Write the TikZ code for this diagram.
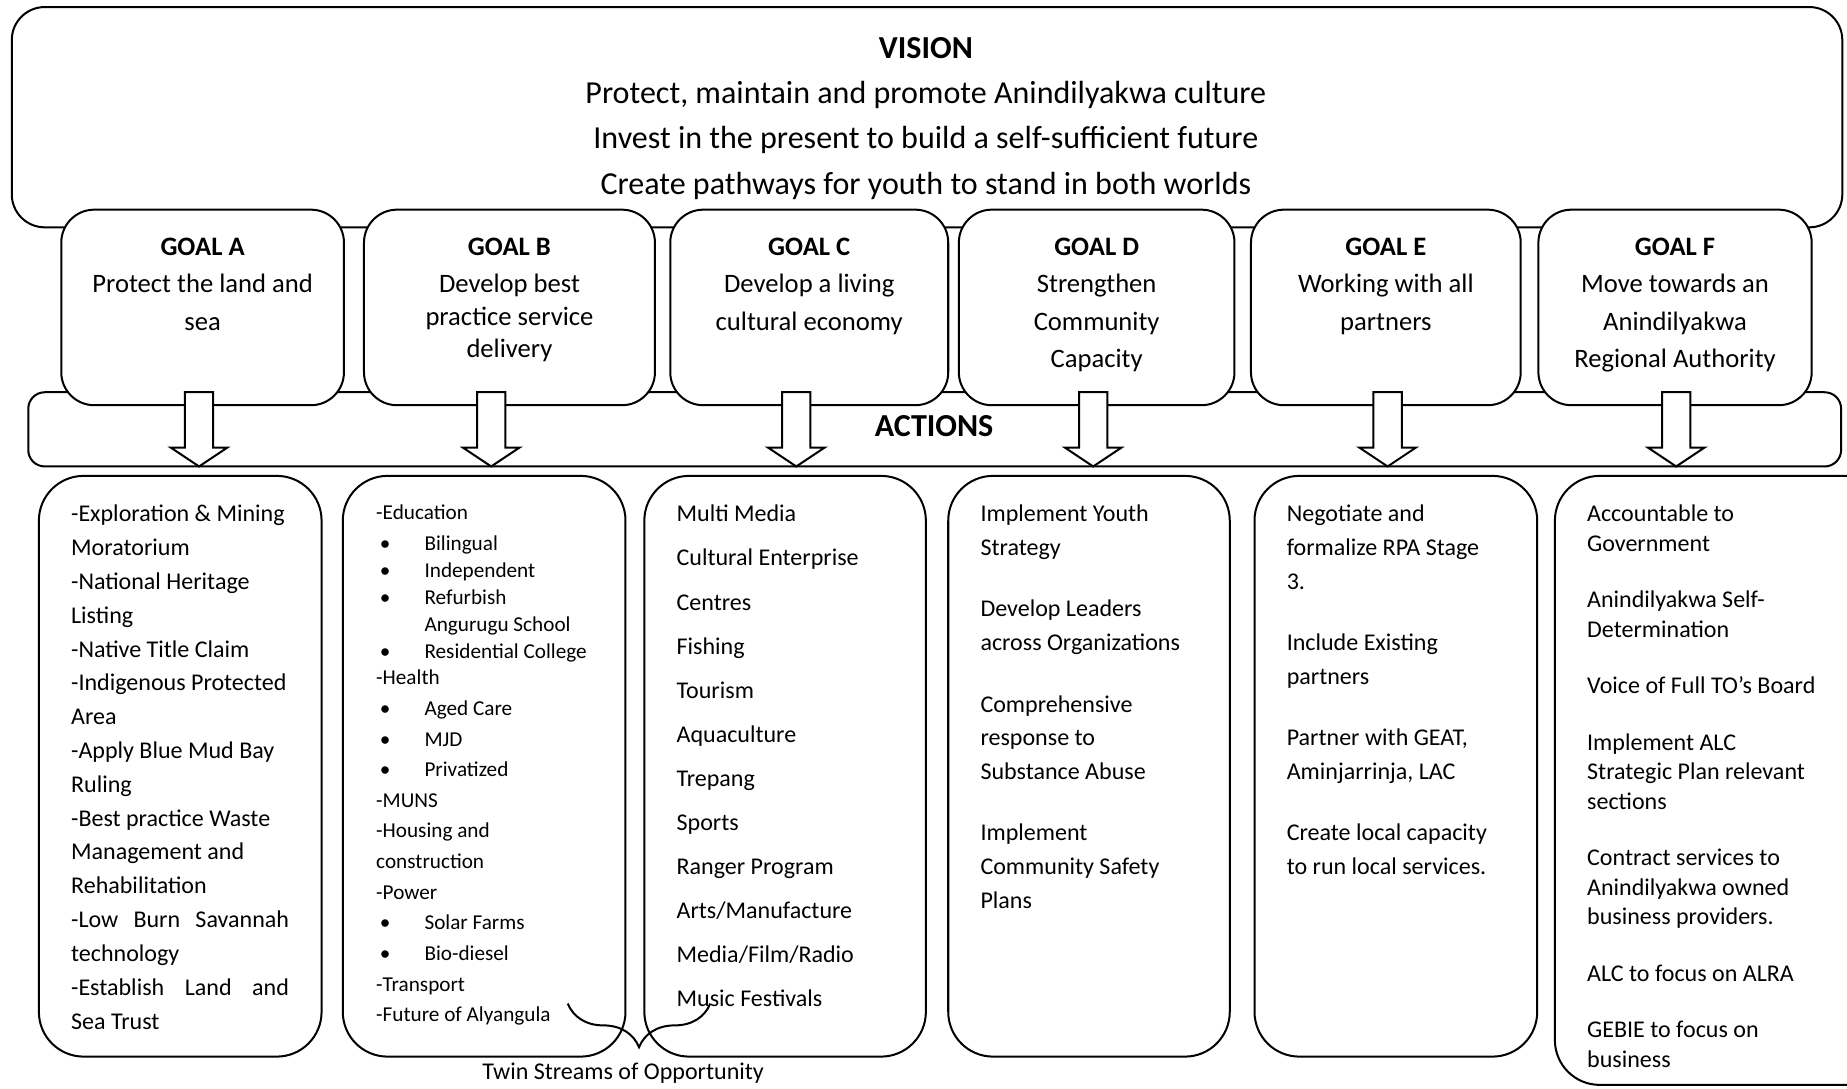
\documentclass[tikz,border=0pt]{standalone}
\usepackage{fontspec}
\setmainfont{Carlito}
\usetikzlibrary{decorations.pathreplacing}
\newcommand{\itembullet}{\makebox[20.5pt][l]{\hspace{1.5pt}\textbullet}}

\begin{document}
\begin{tikzpicture}[x=0.5pt,y=-0.5pt]
\tikzset{frame/.style={draw,line width=0.85pt,fill=white,inner sep=0pt,outer sep=0pt,anchor=north west}}
\tikzset{goalbox/.style={frame,rounded corners=14pt,minimum height=83pt}}
\tikzset{actbox/.style={frame,rounded corners=19pt,minimum height=246.5pt}}
\tikzset{goaltext/.style={anchor=north,align=center,inner sep=0pt,font=\fontsize{11.3}{15.75}\selectfont}}
\tikzset{acttext/.style={anchor=north west,align=left,inner sep=0pt,font=\fontsize{10.2}{14.35}\selectfont}}
\tikzset{blockarrow/.style={draw,line width=0.85pt,fill=white}}

\useasboundingbox (0,0) rectangle (1568,924);
\clip (0,0) rectangle (1568,924);

\node[frame,rounded corners=14pt,minimum width=777pt,minimum height=93.5pt] (vision) at (10,6) {};
\node[align=center,inner sep=0pt,font=\fontsize{13.6}{19.25}\selectfont] (visiontext) at (786,100.5)
  {\textbf{VISION}\\Protect, maintain and promote Anindilyakwa culture\\Invest in the present to build a self-sufficient future\\Create pathways for youth to stand in both worlds};

\node[frame,rounded corners=7pt,minimum width=769.5pt,minimum height=31.5pt] (actions) at (24,333) {};
\node[font=\fontsize{13.6}{15}\selectfont\bfseries] (actionstext) at (793,362) {ACTIONS};

\node[goalbox,minimum width=120pt] (goalA) at (52,178) {};
\node[goalbox,minimum width=123.5pt] (goalB) at (309,178) {};
\node[goalbox,minimum width=118pt] (goalC) at (569,178) {};
\node[goalbox,minimum width=117pt] (goalD) at (814,178) {};
\node[goalbox,minimum width=114.5pt] (goalE) at (1062,178) {};
\node[goalbox,minimum width=116pt] (goalF) at (1306,178) {};

\node[goaltext] (goalAtext) at (172,202) {\textbf{GOAL A}\\Protect the land and\\sea};
\node[goaltext,font=\fontsize{11.3}{13.9}\selectfont] (goalBtext) at (432.5,202) {\textbf{GOAL B}\\[1.6pt]Develop best\\practice service\\delivery};
\node[goaltext] (goalCtext) at (687,202) {\textbf{GOAL C}\\Develop a living\\cultural economy};
\node[goaltext] (goalDtext) at (931,202) {\textbf{GOAL D}\\Strengthen\\Community\\Capacity};
\node[goaltext] (goalEtext) at (1176.5,202) {\textbf{GOAL E}\\Working with all\\partners};
\node[goaltext] (goalFtext) at (1422,202) {\textbf{GOAL F}\\Move towards an\\Anindilyakwa\\Regional Authority};

\foreach \n/\x in {A/169,B/417,C/676,D/928,E/1178,F/1423}{
  \coordinate (tip\n) at (\x,396);
  \draw[blockarrow] (tip\n) -- ++(-24,-16) -- ++(12,0) -- ++(0,-47) -- ++(24,0) -- ++(0,47) -- ++(12,0) -- cycle;
}

\node[actbox,minimum width=120pt] (actA) at (33,404) {};
\node[actbox,minimum width=120pt] (actB) at (291,404) {};
\node[actbox,minimum width=119.5pt] (actC) at (547,404) {};
\node[actbox,minimum width=119.5pt] (actD) at (805,404) {};
\node[actbox,minimum width=120pt] (actE) at (1065,404) {};
\node[actbox,minimum width=150pt,minimum height=258.5pt] (actF) at (1320,404) {};

\node[acttext] (actAtext) at (60,428.5) {-Exploration \& Mining\\Moratorium\\-National Heritage\\Listing\\-Native Title Claim\\-Indigenous Protected\\Area\\-Apply Blue Mud Bay\\Ruling\\-Best practice Waste\\Management and\\Rehabilitation\\\makebox[92.5pt][s]{-Low Burn Savannah}\\technology\\\makebox[92.5pt][s]{-Establish Land and}\\Sea Trust};
\node[acttext,font=\fontsize{9}{13}\selectfont] (actBtext) at (319,428.5) {-Education\\
  \itembullet Bilingual\\[-1.5pt]\itembullet Independent\\[-1.5pt]\itembullet Refurbish\\[-1.5pt]\hspace*{20.5pt}Angurugu School\\[-1.5pt]\itembullet Residential College\\[-2pt]
  -Health\\\itembullet Aged Care\\\itembullet MJD\\\itembullet Privatized\\-MUNS\\-Housing and\\construction\\-Power\\\itembullet Solar Farms\\\itembullet Bio-diesel\\-Transport\\-Future of Alyangula};
\node[acttext,font=\fontsize{10.2}{18.7}\selectfont] (actCtext) at (574,428.5) {Multi Media\\Cultural Enterprise\\Centres\\Fishing\\Tourism\\Aquaculture\\Trepang\\Sports\\Ranger Program\\Arts/Manufacture\\Media/Film/Radio\\Music Festivals};
\node[acttext] (actDtext) at (832,428.5) {Implement Youth\\Strategy\\[11.65pt]Develop Leaders\\across Organizations\\[11.65pt]Comprehensive\\response to\\Substance Abuse\\[11.65pt]Implement\\Community Safety\\Plans};
\node[acttext] (actEtext) at (1092,428.5) {Negotiate and\\formalize RPA Stage\\3.\\[11.65pt]Include Existing\\partners\\[11.65pt]Partner with GEAT,\\Aminjarrinja, LAC\\[11.65pt]Create local capacity\\to run local services.};
\node[acttext,font=\fontsize{10.2}{12.5}\selectfont] (actFtext) at (1347,428.5) {Accountable to\\Government\\[11.5pt]Anindilyakwa Self-\\Determination\\[11.5pt]Voice of Full TO's Board\\[11.5pt]Implement ALC\\Strategic Plan relevant\\sections\\[11.5pt]Contract services to\\Anindilyakwa owned\\business providers.\\[11.5pt]ALC to focus on ALRA\\[11.5pt]GEBIE to focus on\\business};

\coordinate (braceL) at (482,852);
\coordinate (braceR) at (603,852);
\draw[line width=0.85pt,decorate,decoration={brace,amplitude=18.5pt,mirror}] (braceL) -- (braceR);
\node[font=\fontsize{10.2}{12}\selectfont] (twin) at (529,911) {Twin Streams of Opportunity};

\end{tikzpicture}
\end{document}
